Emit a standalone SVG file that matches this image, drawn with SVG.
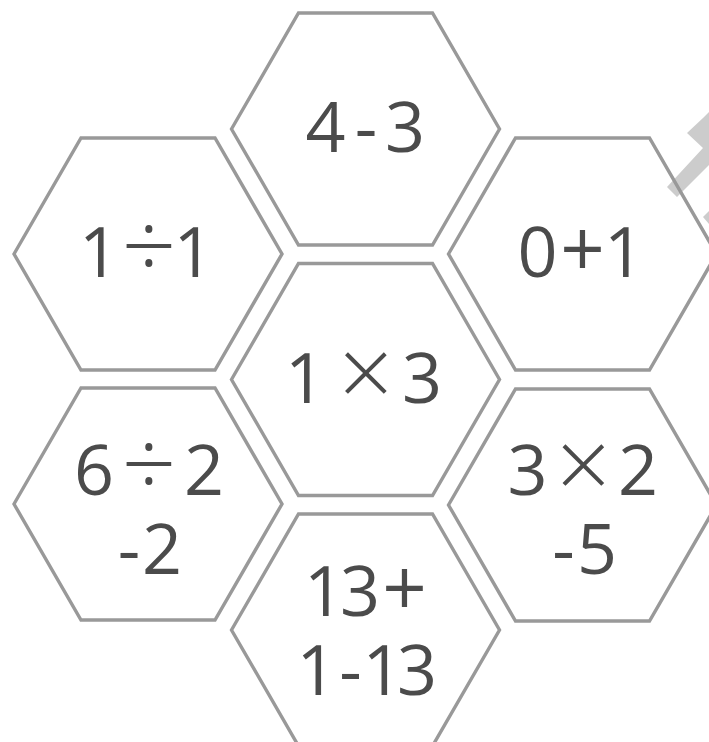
<svg xmlns="http://www.w3.org/2000/svg" width="709" height="742" viewBox="0 0 709 742">
<defs>
<style>
.hex{fill:none;stroke:#999999;stroke-width:3.4;stroke-linejoin:miter}
.t{font-family:"Open Sans","Noto Sans","Liberation Sans",sans-serif;font-size:70px;fill:#4b4b4b;text-anchor:middle}
.op{font-size:96px;font-weight:300}
.plus{font-size:78px}
.mul{font-size:96px;font-weight:300}
</style>
<polygon id="hexshape" points="-134,0 -67,-116 67,-116 134,0 67,116 -67,116"/>
</defs>
<rect width="709" height="742" fill="#ffffff"/>
<g id="deco" fill="#cccccc">
<polygon points="709,112 703,118 687,133 703,148 667,187 677,197 709,165"/>
<polygon points="703,217 709,211 709,224"/>
</g>
<g id="connectors"></g>
<g id="n-top"><use href="#hexshape" class="hex" transform="translate(365.5,129)"/>
<text class="t" x="325.5 366 405" y="152">4-3</text></g>
<g id="n-left1"><use href="#hexshape" class="hex" transform="translate(148,254)"/>
<text class="t" x="99 149 193.5" y="276.7">1<tspan class="op" dy="3">÷</tspan><tspan dy="-3">1</tspan></text></g>
<g id="n-right1"><use href="#hexshape" class="hex" transform="translate(582.5,254)"/>
<text class="t" x="537.5 582.5 624" y="276.7">0<tspan class="plus">+</tspan>1</text></g>
<g id="n-center"><use href="#hexshape" class="hex" transform="translate(365.5,379.5)"/>
<text class="t" x="305 366 422" y="402.7">1<tspan class="mul" dy="4">×</tspan><tspan dy="-4">3</tspan></text></g>
<g id="n-left2"><use href="#hexshape" class="hex" transform="translate(148,504)"/>
<text class="t" x="94 149 204" y="495">6<tspan class="op" dy="3">÷</tspan><tspan dy="-3">2</tspan></text>
<text class="t" x="129 162" y="574">-2</text></g>
<g id="n-right2"><use href="#hexshape" class="hex" transform="translate(582.5,505)"/>
<text class="t" x="527.5 583.5 638" y="495">3<tspan class="mul" dy="4">×</tspan><tspan dy="-4">2</tspan></text>
<text class="t" x="563.5 597" y="574">-5</text></g>
<g id="n-bottom"><use href="#hexshape" class="hex" transform="translate(365.5,630)"/>
<text class="t" x="324 360 404.5" y="616">13<tspan class="plus">+</tspan></text>
<text class="t" x="316.5 350.5 382.5 417" y="695">1-13</text></g>
</svg>
